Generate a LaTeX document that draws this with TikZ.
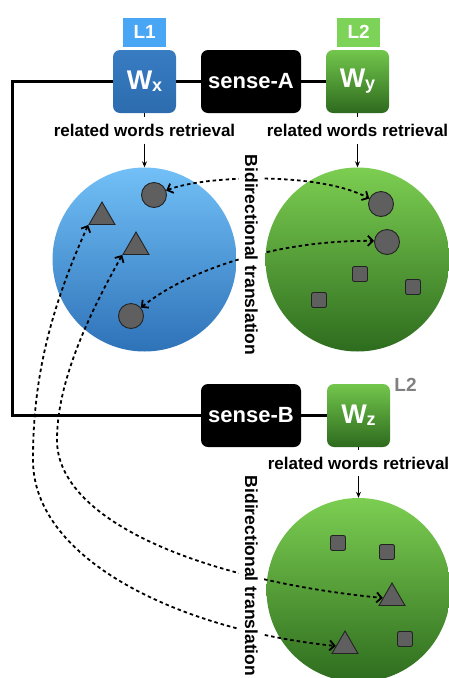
\documentclass[tikz,border=0pt]{standalone}
\usepackage{fontspec}
\setmainfont{Liberation Sans}
\usetikzlibrary{shapes.geometric,arrows.meta}

\definecolor{lblue}{RGB}{72,166,245}
\definecolor{lgreen}{RGB}{125,211,88}
\definecolor{wblueT}{RGB}{56,124,194}
\definecolor{wblueB}{RGB}{44,108,174}
\definecolor{wgreenT}{RGB}{114,198,76}
\definecolor{wgreenB}{RGB}{46,106,30}
\definecolor{poolblueT}{RGB}{114,192,247}
\definecolor{poolblueB}{RGB}{46,114,184}
\definecolor{poolgreenT}{RGB}{124,206,82}
\definecolor{poolgreenB}{RGB}{46,108,30}
\definecolor{wordfill}{RGB}{95,95,95}
\definecolor{wordedge}{RGB}{35,35,35}

\newcommand{\wsub}[1]{{\fontsize{27}{27}\selectfont W}\raisebox{-2pt}{\fontsize{18}{18}\selectfont #1}}

\begin{document}
\begin{tikzpicture}[x=1pt,y=-1pt]
\tikzstyle{every node}+=[font=\bfseries]
\tikzstyle{tag}=[rectangle, minimum width=43pt, minimum height=29pt, text=white, font=\fontsize{19}{19}\selectfont\bfseries]
\tikzstyle{wbox}=[rectangle, rounded corners=7pt, minimum size=63pt, text=white]
\tikzstyle{sensebox}=[rectangle, rounded corners=7pt, minimum width=100pt, minimum height=63pt, fill=black, text=white, font=\fontsize{22}{22}\selectfont\bfseries]
\tikzstyle{retr}=[inner xsep=0pt, inner ysep=6.8pt, font=\fontsize{17}{17}\selectfont\bfseries]
\tikzstyle{bidir}=[rotate=-90, fill=white, inner xsep=1pt, inner ysep=6pt, font=\fontsize{17.5}{17.5}\selectfont\bfseries]
\tikzstyle{pool}=[circle, minimum size=184pt, inner sep=0pt]
\tikzstyle{circword}=[circle, minimum size=25pt, inner sep=0pt, fill=wordfill, draw=wordedge, line width=0.9pt]
\tikzstyle{triword}=[regular polygon, regular polygon sides=3, minimum size=30pt, inner sep=0pt, fill=wordfill, draw=wordedge, line width=0.9pt]
\tikzstyle{sqword}=[rectangle, rounded corners=2pt, minimum size=15pt, inner sep=0pt, fill=wordfill, draw=wordedge, line width=0.9pt]
\tikzstyle{trans}=[{Straight Barb[length=5pt,width=10pt]}-{Straight Barb[length=5pt,width=10pt]}, line width=1.8pt, dash pattern=on 3.5pt off 3pt]
\tikzstyle{fetch}=[-{Stealth[length=6pt,width=5pt]}, line width=1.1pt]
\tikzstyle{link}=[line width=2.3pt]

\useasboundingbox (0,0) rectangle (449,678);
\clip (0,0) rectangle (449,678);

\node[pool, top color=poolblueT, bottom color=poolblueB] (poolA) at (144.5,259.5) {};
\node[pool, top color=poolgreenT, bottom color=poolgreenB] (poolB) at (357.5,259.5) {};
\node[pool, top color=poolgreenT, bottom color=poolgreenB] (poolC) at (358.5,590) {};

\node[circword] (cA1) at (154,195) {};
\node[circword] (cA2) at (131,316) {};
\node[triword] (tA1) at (102,217) {};
\node[triword] (tA2) at (136,247) {};
\node[circword] (cB1) at (381,204) {};
\node[circword] (cB2) at (387,242) {};
\node[sqword] (sB1) at (360,274) {};
\node[sqword] (sB2) at (319,300) {};
\node[sqword] (sB3) at (413,287) {};
\node[sqword] (sC1) at (338,543) {};
\node[sqword] (sC2) at (387,552) {};
\node[sqword] (sC3) at (405,639) {};
\node[triword] (tC1) at (392,598) {};
\node[triword] (tC2) at (345,646) {};

\draw[trans] (cA1.20) .. controls (205,175) and (320,172) .. (cB1.155);
\draw[trans] (cA2.40) .. controls (190,268) and (280,240) .. (cB2.175);
\draw[trans] (tA1.corner 2) .. controls (45,320) and (33,390) .. (33,460) .. controls (33,560) and (180,630) .. (tC2.west);
\draw[trans] (tA2.corner 2) .. controls (80,330) and (57,390) .. (57,440) .. controls (57,520) and (200,580) .. (tC1.west);

\node[bidir] (bdA) at (251.5,255) {Bidirectional translation};
\node[bidir] (bdB) at (251.5,576) {Bidirectional translation};

\node[tag, fill=lblue] (l1) at (144.7,32) {L1};
\node[tag, fill=lgreen] (l2) at (358.7,32) {L2};
\node[wbox, top color=wblueT, bottom color=wblueB] (wx) at (144.5,81.5) {\wsub{x}};
\node[sensebox] (senseA) at (251,81.5) {sense-A};
\node[wbox, top color=wgreenT, bottom color=wgreenB] (wy) at (357.5,81.5) {\wsub{y}};
\node[sensebox] (senseB) at (251,415.5) {sense-B};
\node[wbox, top color=wgreenT, bottom color=wgreenB] (wz) at (358.5,415.5) {\wsub{z}};
\node[text=gray, font=\fontsize{19}{19}\selectfont\bfseries] (l2z) at (405.5,385) {L2};

\node[retr] (rA) at (144.5,130.5) {related words retrieval};
\node[retr] (rB) at (357.5,130.5) {related words retrieval};
\node[retr] (rC) at (358.5,463) {related words retrieval};

\coordinate (bendA) at (12.5,81.5);
\coordinate (bendB) at (12.5,415.5);
\draw[link] (wx) -- (senseA) -- (wy);
\draw[link] (wx) -- (bendA) -- (bendB) -- (senseB) -- (wz);

\draw (wx) -- (rA);
\draw (wy) -- (rB);
\draw (wz) -- (rC);
\draw[fetch] (rA) -- (poolA);
\draw[fetch] (rB) -- (poolB);
\draw[fetch] (rC) -- (poolC);
\end{tikzpicture}
\end{document}
